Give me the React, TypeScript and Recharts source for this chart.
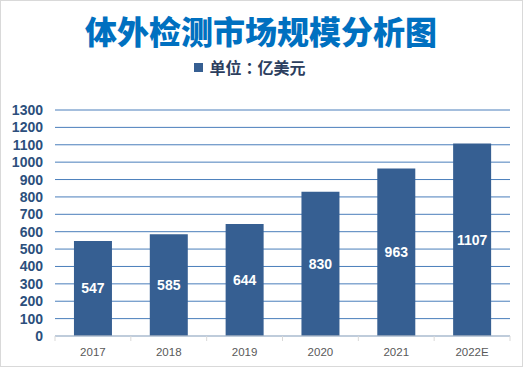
import React from "react";
import { BarChart, Bar, XAxis, YAxis, CartesianGrid, LabelList } from "recharts";

const categories = ["2017", "2018", "2019", "2020", "2021", "2022E"];
const marketSize = [547, 585, 644, 830, 963, 1107];
const yTicks = [0, 100, 200, 300, 400, 500, 600, 700, 800, 900, 1000, 1100, 1200, 1300];
const titleText = "体外检测市场规模分析图";
const legendText = "单位：亿美元";

const data = categories.map((c, i) => ({ year: c, value: marketSize[i] }));

const XTick = (props: any) => {
  const { x, y, payload, index, visibleTicksCount } = props;
  const half = (510 - 55) / categories.length / 2;
  return (
    <g>
      <line x1={x - half} y1={y - 8} x2={x - half} y2={y - 3} stroke="#d9d9d9" />
      {index === (visibleTicksCount ?? categories.length) - 1 && (
        <line x1={x + half} y1={y - 8} x2={x + half} y2={y - 3} stroke="#d9d9d9" />
      )}
      <text x={x} y={y + 12} textAnchor="middle" fill="#595959" fontSize={11.5} fontFamily="Liberation Sans, Arial, sans-serif">
        {payload.value}
      </text>
    </g>
  );
};

export default function App() {
  return (
    <div style={{ position: "absolute", left: 0, top: 0, width: 526, height: 370, background: "#fff" }}>
      <div style={{ position: "absolute", left: 0, top: 0, width: 521, height: 365, border: "1px solid #d9d9d9" }} />
      <div
        style={{
          position: "absolute",
          left: 0,
          top: 8,
          width: 522,
          textAlign: "center",
          fontFamily: "'Noto Sans CJK SC', sans-serif",
          fontWeight: 900,
          fontSize: 32,
          lineHeight: "44px",
          color: "#0070c0",
        }}
      >
        {titleText}
      </div>
      <div
        style={{
          position: "absolute",
          left: 0,
          top: 55,
          width: 500,
          display: "flex",
          justifyContent: "center",
          alignItems: "center",
          fontFamily: "'Noto Sans CJK TC', 'Noto Sans CJK SC', sans-serif",
          fontWeight: 700,
          fontSize: 16,
          lineHeight: "24px",
          color: "#2c3e5e",
        }}
      >
        <span style={{ display: "inline-block", width: 9, height: 9, background: "#365f92", marginRight: 6 }} />
        <span>{legendText}</span>
      </div>
      <BarChart
        width={526}
        height={370}
        data={data}
        margin={{ top: 110, right: 16, bottom: 4, left: 0 }}
        barCategoryGap="25%"
        style={{ position: "absolute", left: 0, top: 0 }}
      >
        <CartesianGrid vertical={false} stroke="#4a7ebb" strokeWidth={1} />
        <XAxis
          dataKey="year"
          axisLine={{ stroke: "#d9d9d9" }}
          tickLine={false}
          height={30}
          tick={<XTick />}
          interval={0}
        />
        <YAxis
          domain={[0, 1300]}
          ticks={yTicks}
          interval={0}
          width={55}
          axisLine={false}
          tickLine={false}
          tickSize={0}
          tickMargin={12}
          tick={{ fill: "#2c4f7c", fontSize: 14, fontWeight: 700, fontFamily: "Liberation Sans, Arial, sans-serif" }}
        />
        <Bar dataKey="value" fill="#365f92" isAnimationActive={false} maxBarSize={38}>
          <LabelList
            dataKey="value"
            position="center"
            fill="#ffffff"
            fontSize={14}
            fontWeight={700}
            fontFamily="Liberation Sans, Arial, sans-serif"
          />
        </Bar>
      </BarChart>
    </div>
  );
}
